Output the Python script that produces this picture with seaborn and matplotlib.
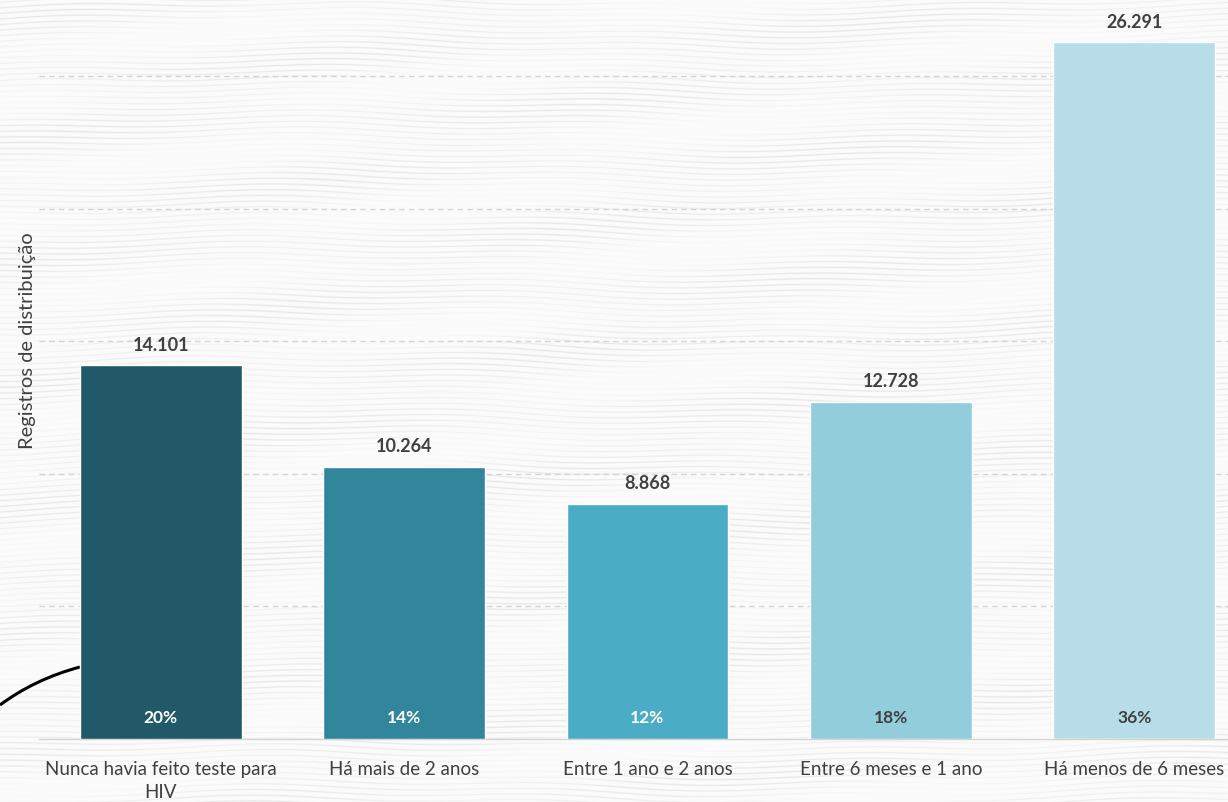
import numpy as np
import pandas as pd
import matplotlib
matplotlib.use("Agg")
import matplotlib.pyplot as plt
from matplotlib.path import Path
from matplotlib.patches import PathPatch
import seaborn as sns

categories = ["Nunca havia feito teste para\nHIV", "Há mais de 2 anos", "Entre 1 ano e 2 anos",
              "Entre 6 meses e 1 ano", "Há menos de 6 meses"]
values = [14101, 10264, 8868, 12728, 26291]
value_labels = ["14.101", "10.264", "8.868", "12.728", "26.291"]
pct_labels = ["20%", "14%", "12%", "18%", "36%"]
colors = ["#215968", "#31869B", "#4BACC6", "#92CDDC", "#B7DEE8"]
pct_colors = ["white", "white", "white", "#404040", "#404040"]
y_label = "Registros de distribuição"

sns.set_theme(style="white")
plt.rcParams["font.family"] = ["Lato", "DejaVu Sans"]

W, H = 1228, 803
fig = plt.figure(figsize=(W / 100, H / 100), dpi=100)

# textured background (deterministic brush-like streaks)
bg = fig.add_axes([0, 0, 1, 1])
yy, xx = np.mgrid[0:H, 0:W].astype(float)
streak = np.sin(yy * 0.55 + 2.5 * np.sin(xx / 170.0) + 1.3 * np.sin(xx / 47.0 + yy / 90.0)) ** 10
mod = 0.5 + 0.5 * np.sin(xx / 95.0 + yy / 13.0) * np.cos(xx / 230.0 - yy / 41.0)
tex = 1.0 - 0.075 * streak * mod - 0.015
tex = np.clip(tex, 0, 1)
bg.imshow(np.dstack([tex, tex, tex]), extent=[0, W, H, 0], aspect="auto", zorder=0)
bg.set_xlim(0, W)
bg.set_ylim(H, 0)
bg.axis("off")
curve = Path([(0, 706), (35, 680), (80, 668)], [Path.MOVETO, Path.CURVE3, Path.CURVE3])
bg.add_patch(PathPatch(curve, facecolor="none", edgecolor="black", lw=2.2, zorder=2))

ax = fig.add_axes([39 / W, 63 / H, 1217 / W, 740 / H])
ax.patch.set_alpha(0)
df = pd.DataFrame({"cat": categories, "val": values})
sns.barplot(data=df, x="cat", y="val", hue="cat", palette=colors, width=0.665,
            saturation=1, ax=ax, legend=False, zorder=3)
ax.set_xlim(-0.5, 4.5)
ax.set_ylim(0, 27914)
ax.set_yticks([5000, 10000, 15000, 20000, 25000])
ax.yaxis.grid(True, linestyle=(0, (4, 3)), color="#d4d4d4", lw=1)
ax.set_axisbelow(True)
ax.tick_params(axis="y", length=0, labelleft=False)
for s in ["top", "right", "left"]:
    ax.spines[s].set_visible(False)
ax.spines["bottom"].set_color("#d4d4d4")
ax.spines["bottom"].set_linewidth(1)
ax.set_xticks([-0.5, 0.5, 1.5, 2.5, 3.5, 4.5], minor=True)
ax.tick_params(axis="x", which="minor", length=8, color="#d4d4d4", width=1, direction="out")
ax.tick_params(axis="x", which="major", length=0, pad=15, labelsize=13.5, labelcolor="#404040")
for t in ax.get_xticklabels():
    t.set_linespacing(1.45)
ax.set_xlabel("")
ax.set_ylabel(y_label, fontsize=14.5, color="#404040")
ax.yaxis.set_label_coords(-0.0025, 0.539)

for i, (v, vl, pl, pc) in enumerate(zip(values, value_labels, pct_labels, pct_colors)):
    ax.annotate(vl, (i, v), xytext=(0, 9), textcoords="offset points", ha="center",
                va="bottom", fontsize=13, fontweight="bold", color="#404040", zorder=5)
    ax.annotate(pl, (i, 0), xytext=(0, 16), textcoords="offset points", ha="center",
                va="center", fontsize=12.5, fontweight="bold", color=pc, zorder=5)

fig.savefig("out.png", dpi=100)
